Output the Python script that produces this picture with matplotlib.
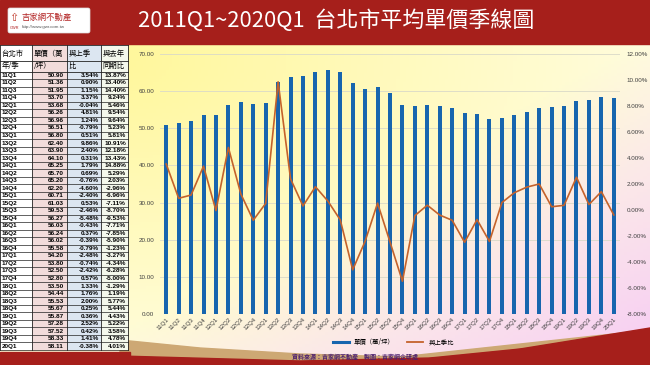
import numpy as np
import matplotlib.pyplot as plt
from matplotlib.patches import Rectangle, Polygon, FancyBboxPatch
from matplotlib.lines import Line2D
from matplotlib.ticker import FormatStrFormatter

plt.rcParams['font.family'] = ['Liberation Sans', 'Noto Sans CJK TC', 'DejaVu Sans']

# --- Data ---
quarters = ["11Q1", "11Q2", "11Q3", "11Q4", "12Q1", "12Q2", "12Q3", "12Q4",
            "13Q1", "13Q2", "13Q3", "13Q4", "14Q1", "14Q2", "14Q3", "14Q4",
            "15Q1", "15Q2", "15Q3", "15Q4", "16Q1", "16Q2", "16Q3", "16Q4",
            "17Q1", "17Q2", "17Q3", "17Q4", "18Q1", "18Q2", "18Q3", "18Q4",
            "19Q1", "19Q2", "19Q3", "19Q4", "20Q1"]
price = [50.90, 51.36, 51.95, 53.70, 53.68, 56.26, 56.96, 56.51,
         56.80, 62.40, 63.90, 64.10, 65.25, 65.70, 65.20, 62.20,
         60.71, 61.03, 59.53, 56.27, 56.03, 56.24, 56.02, 55.58,
         54.20, 53.80, 52.50, 52.80, 53.50, 54.44, 55.53, 55.67,
         55.87, 57.28, 57.52, 58.33, 58.11]
qoq = [3.54, 0.90, 1.15, 3.37, -0.04, 4.81, 1.24, -0.79,
       0.51, 9.86, 2.40, 0.31, 1.79, 0.69, -0.76, -4.60,
       -2.40, 0.53, -2.46, -5.48, -0.43, 0.37, -0.39, -0.79,
       -2.48, -0.74, -2.42, 0.57, 1.33, 1.76, 2.00, 0.25,
       0.36, 2.52, 0.42, 1.41, -0.38]
yoy = [13.87, 13.40, 14.40, 9.24, 5.46, 9.54, 9.64, 5.23,
       5.81, 10.91, 12.18, 13.43, 14.88, 5.29, 2.03, -2.96,
       -6.96, -7.11, -8.70, -9.53, -7.71, -7.85, -5.90, -1.23,
       -3.27, -4.34, -6.28, -5.00, -1.29, 1.19, 5.77, 5.44,
       4.43, 5.22, 3.58, 4.78, 4.01]

title = "2011Q1~2020Q1  台北市平均單價季線圖"
headers = [("台北市", "年/季"), ("單價（萬", "/坪）"), ("與上季", "比"), ("與去年", "同期比")]
bar_label = "單價（萬/坪）"
line_label = "與上季比"
source = "資料來源：吉家網不動產　製圖：吉家網企研處"

W, H = 650, 365
RED = '#A61F1B'
BLUE = '#1765AE'
ORANGE = '#C4622B'

fig = plt.figure(figsize=(W / 100, H / 100), dpi=100)

# --- background (pixel coords) ---
bg = fig.add_axes([0, 0, 1, 1])
bg.set_xlim(0, W)
bg.set_ylim(H, 0)
bg.axis('off')

xx, yy = np.meshgrid(np.linspace(0, 1, 200), np.linspace(0, 1, 120))
yellow = np.array([1.0, 0.97, 0.60])
cream = np.array([1.0, 0.99, 0.88])
pink = np.array([0.97, 0.82, 0.95])
d = np.clip(np.hypot(xx - 0.15, yy - 0.15) / 0.9, 0, 1)[..., None]
img = yellow * (1 - d) + cream * d
p = np.clip((xx + yy - 1.1) / 0.8, 0, 1)[..., None]
img = img * (1 - p) + pink * p
bg.imshow(img, extent=(0, W, H, 0), aspect='auto', zorder=0)

# header band
bg.add_patch(Rectangle((0, 0), W, 44, color=RED, zorder=1))
# bottom swoosh
xs = np.linspace(120, W, 80)
red_top = np.interp(xs, [120, 300, 430, 520, 650], [356, 361, 358, 349, 328])
tan_top = np.interp(xs, [120, 200, 300, 400, 650], [340, 348, 354, 357, 330])
bg.add_patch(Polygon(np.column_stack([np.r_[xs, W, 120], np.r_[tan_top, H, H]]),
                     color='#CDA874', zorder=1))
bg.add_patch(Polygon(np.column_stack([np.r_[xs, W, 120], np.r_[red_top, H, H]]),
                     color=RED, zorder=1))
bg.add_patch(Rectangle((0, 352), 130, 13, color=RED, zorder=1))

# logo
bg.add_patch(FancyBboxPatch((8, 8), 82, 25, boxstyle="round,pad=0,rounding_size=2",
                            fc='white', ec='#dddddd', lw=0.5, zorder=2))
bg.text(14, 18, "⇧", color='#C0392B', fontsize=8, ha='center', va='center',
        family=['DejaVu Sans'], zorder=3)
bg.text(22, 17, "吉家網不動產", color='#B22222', fontsize=6, ha='left', va='center',
        family=['Noto Sans CJK TC'], zorder=3)
bg.text(22, 27, "http://www.gwr.com.tw", color='#555555', fontsize=3.2, ha='left',
        va='center', zorder=3)
bg.text(14, 28, "GWR", color='#B22222', fontsize=2.8, ha='center', va='center', zorder=3)

bg.text(336, 21, title, color='white', fontsize=15.8, ha='center', va='center',
        family=['Noto Sans CJK TC', 'DejaVu Sans'], zorder=3)

# --- table ---
cols = [0, 32, 67, 101, 128]
col_bg = ['white', '#F2DCDB', '#DCE6F1', '#F4F8EC']
head_top, head_bot = 45, 71.5
row_h = (350 - head_bot) / len(quarters)
for c in range(4):
    bg.add_patch(Rectangle((cols[c], head_top), cols[c + 1] - cols[c], 350 - head_top,
                           fc=col_bg[c], ec='none', zorder=2))
    bg.text(cols[c] + 1.5, 54, headers[c][0], fontsize=5.3, ha='left', va='center',
            family=['Noto Sans CJK TC'], zorder=4)
    bg.text(cols[c] + 1.5, 66, headers[c][1], fontsize=5.3, ha='left', va='center',
            family=['Noto Sans CJK TC'], zorder=4)
for xc in cols:
    bg.plot([xc, xc], [head_top, 350], color='#222222', lw=0.6, zorder=3)
for yl in [head_top, 60.5, head_bot]:
    bg.plot([0, cols[-1]], [yl, yl], color='#222222', lw=0.6, zorder=3)
for i, q in enumerate(quarters):
    yc = head_bot + (i + 0.5) * row_h
    yb = head_bot + (i + 1) * row_h
    bg.plot([0, cols[-1]], [yb, yb], color='#222222', lw=0.5, zorder=3)
    kw = dict(fontsize=4.6, fontweight='bold', va='center', zorder=4)
    bg.text(cols[0] + 1.5, yc, q, ha='left', **kw)
    bg.text(cols[2] - 3, yc, f"{price[i]:.2f}", ha='right', **kw)
    bg.text(cols[3] - 2, yc, f"{qoq[i]:.2f}%", ha='right', **kw)
    bg.text(cols[4] - 2, yc, f"{yoy[i]:.2f}%", ha='right', **kw)

bg.text(292, 356, source, fontsize=4.3, color='#4B1F6F', ha='left', va='center',
        family=['Noto Sans CJK TC'], fontweight='bold', zorder=4)

# --- chart ---
ax = fig.add_axes([160 / W, (H - 314) / H, 460 / W, 260 / H])
ax.patch.set_alpha(0)
x = np.arange(len(quarters))
ax.bar(x, price, width=0.32, color=BLUE, zorder=2)
ax.set_ylim(0, 70)
ax.set_yticks(np.arange(0, 71, 10))
ax.yaxis.set_major_formatter(FormatStrFormatter('%.2f'))
ax.set_xlim(-0.5, len(quarters) - 0.5)
ax.set_xticks(x)
ax.set_xticklabels(quarters, rotation=45, ha='right', rotation_mode='anchor')
ax.grid(axis='y', color='#d9d9c8', lw=0.6, zorder=0)
for s in ax.spines.values():
    s.set_visible(False)
ax.tick_params(axis='both', length=0, labelsize=4.5, labelcolor='#404040', pad=4)
ax.tick_params(axis='x', pad=2)

ax2 = ax.twinx()
ax2.plot(x, qoq, color=ORANGE, lw=1.2, zorder=3)
ax2.set_ylim(-8, 12)
ax2.set_yticks(np.arange(-8, 13, 2))
ax2.yaxis.set_major_formatter(FormatStrFormatter('%.2f%%'))
for s in ax2.spines.values():
    s.set_visible(False)
ax2.tick_params(axis='y', length=0, labelsize=4.5, labelcolor='#404040', pad=5)

handles = [Line2D([], [], color=BLUE, lw=2.2), Line2D([], [], color=ORANGE, lw=1.3)]
fig.legend(handles, [bar_label, line_label], loc='center', bbox_to_anchor=(0.605, 0.062),
           ncol=2, frameon=False, handlelength=2.5, columnspacing=2,
           prop={'family': ['Noto Sans CJK TC'], 'size': 4.6})

fig.savefig("out.png", dpi=100)
